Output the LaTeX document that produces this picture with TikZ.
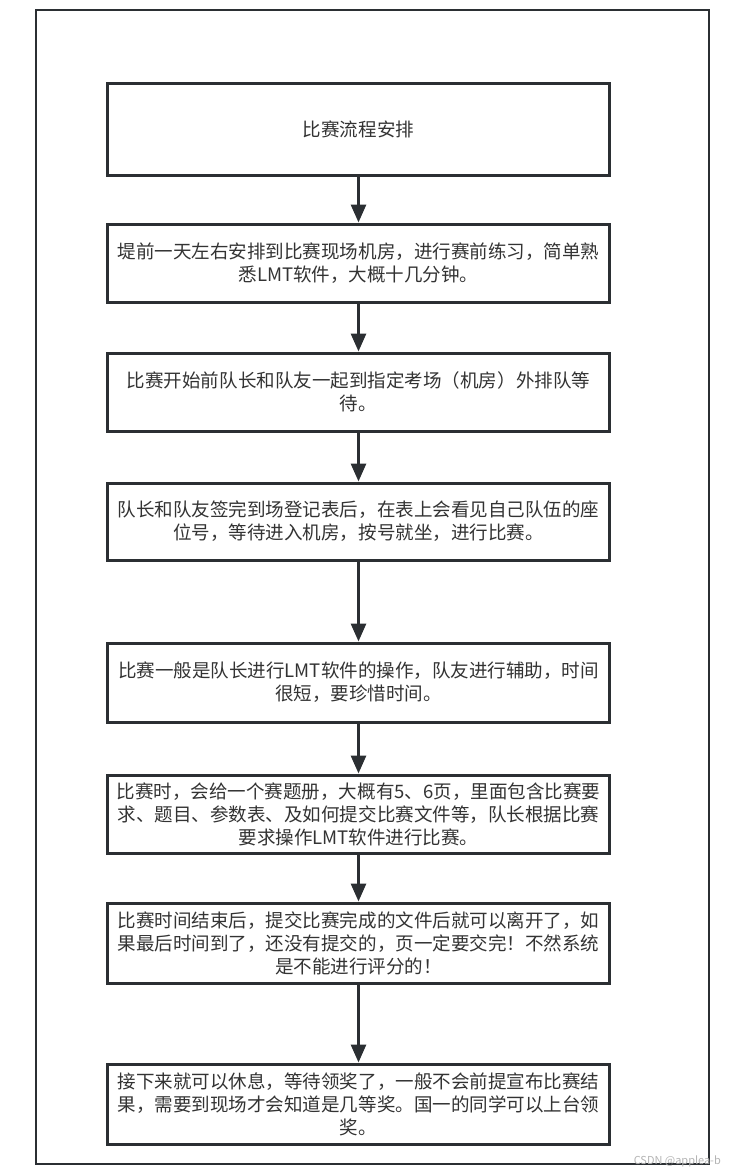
\documentclass[tikz,border=0pt]{standalone}
\usepackage{fontspec}
\newfontfamily\cjk{Noto Sans CJK SC}
\usepackage{xcolor}
\usetikzlibrary{arrows.meta}
\definecolor{line-dark}{HTML}{2B2F33}
\definecolor{text-dark}{HTML}{333333}
\definecolor{mark-gray}{HTML}{B4B4B4}

\begin{document}
\begin{tikzpicture}[x=1bp, y=-1bp,
      every node/.style={font=\cjk\fontsize{18.6}{23}\selectfont, text=text-dark},
      stepbox/.style={draw=line-dark, line width=3bp, fill=white,
          minimum width=501bp, align=center, inner sep=0pt},
      flow/.style={draw=line-dark, line width=3bp,
          -{Triangle[length=18bp, width=15bp]}}]
    \useasboundingbox (0,0) rectangle (746,1173);
    \draw[line-dark, line width=2.5bp] (36,10) rectangle (709,1164);
    \node[stepbox, minimum height=92bp] (S1) at (358.5,129) {比赛流程安排};
    \node[stepbox, minimum height=78bp] (S2) at (358.5,263)
          {堤前一天左右安排到比赛现场机房，进行赛前练习，简单熟\\悉LMT软件，大概十几分钟。};
    \node[stepbox, minimum height=78bp] (S3) at (358.5,392)
          {比赛开始前队长和队友一起到指定考场（机房）外排队等\\待。};
    \node[stepbox, minimum height=77bp] (S4) at (358.5,521.5)
          {队长和队友签完到场登记表后，在表上会看见自己队伍的座\\位号，等待进入机房，按号就坐，进行比赛。};
    \node[stepbox, minimum height=79bp] (S5) at (358.5,682.5)
          {比赛一般是队长进行LMT软件的操作，队友进行辅助，时间\\很短，要珍惜时间。};
    \node[stepbox, minimum height=78bp] (S6) at (358.5,814)
          {比赛时，会给一个赛题册，大概有5、6页，里面包含比赛要\\求、题目、参数表、及如何提交比赛文件等，队长根据比赛\\要求操作LMT软件进行比赛。};
    \node[stepbox, minimum height=80bp] (S7) at (358.5,943)
          {比赛时间结束后，提交比赛完成的文件后就可以离开了，如\\果最后时间到了，还没有提交的，页一定要交完！不然系统\\是不能进行评分的！};
    \node[stepbox, minimum height=80bp] (S8) at (358.5,1104)
          {接下来就可以休息，等待领奖了，一般不会前提宣布比赛结\\果，需要到现场才会知道是几等奖。国一的同学可以上台领\\奖。};
    \draw[flow] (S1) -- (S2);
    \draw[flow] (S2) -- (S3);
    \draw[flow] (S3) -- (S4);
    \draw[flow] (S4) -- (S5);
    \draw[flow] (S5) -- (S6);
    \draw[flow] (S6) -- (S7);
    \draw[flow] (S7) -- (S8);
    \node[font=\cjk\fontsize{11}{13}\selectfont, text=mark-gray, anchor=east,
          inner sep=0pt] (WM) at (721,1161) {CSDN @applea-b};
  \end{tikzpicture}
\end{document}
